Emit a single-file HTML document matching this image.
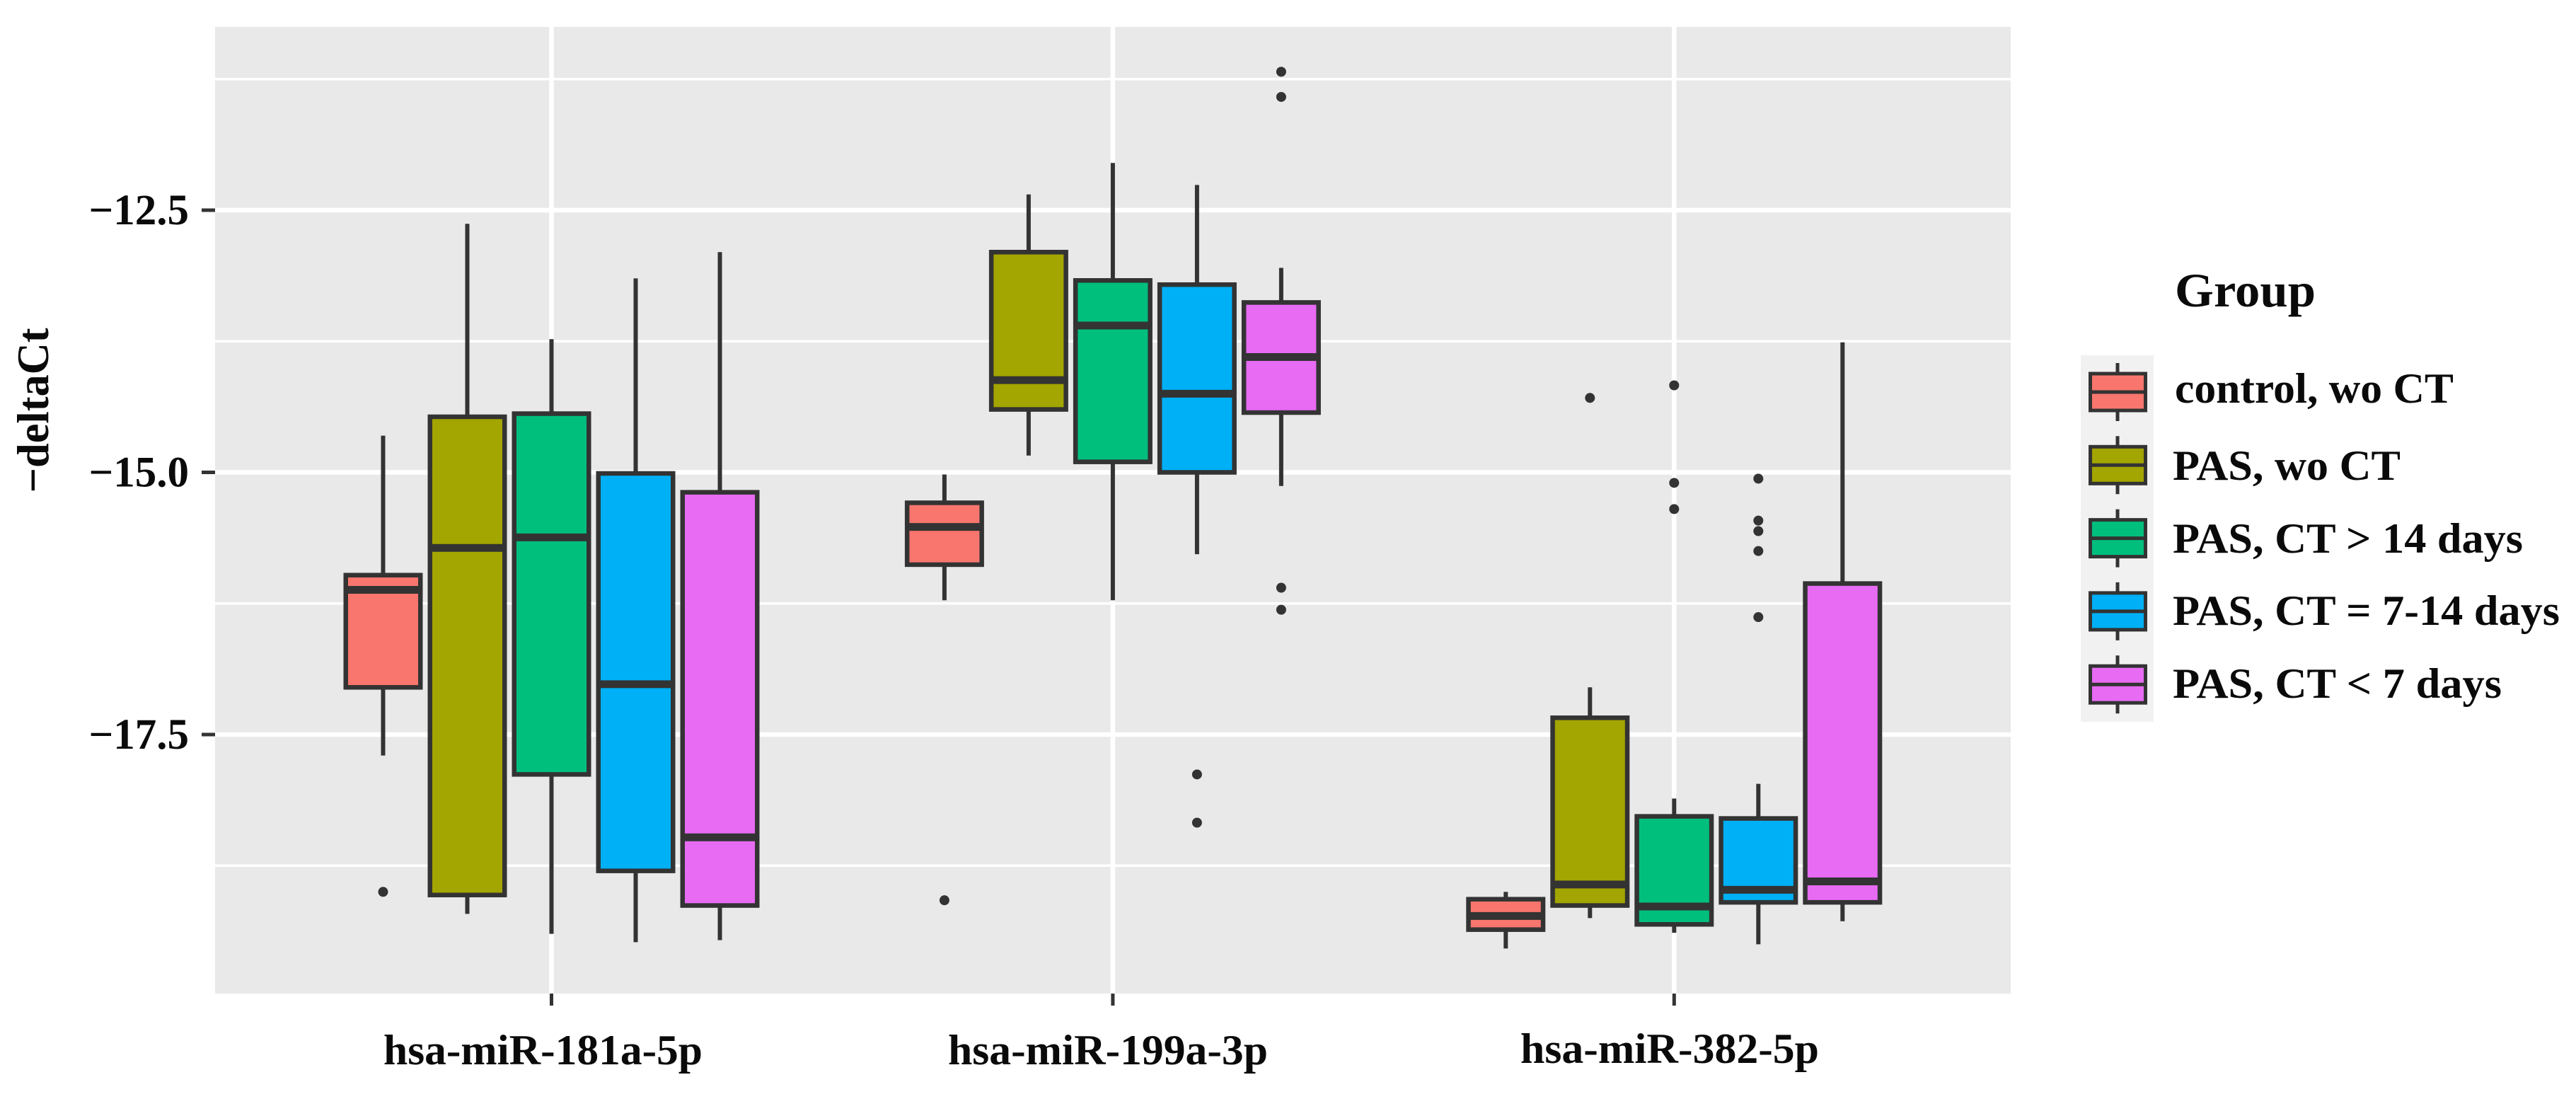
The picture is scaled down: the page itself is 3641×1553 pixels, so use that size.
<!DOCTYPE html>
<html lang="en">
<head>
<meta charset="utf-8">
<title>Boxplot of -deltaCt by miRNA and group</title>
<style>
  html, body { margin: 0; padding: 0; background: #fff; }
  svg { display: block; }
  text { font-family: "Liberation Serif", serif; font-weight: bold; fill: #0a0a0a; }
</style>
</head>
<body>
<svg id="chart" xmlns="http://www.w3.org/2000/svg" width="3641" height="1553" viewBox="0 0 3641 1553">
  <rect x="0" y="0" width="3641" height="1553" fill="#ffffff"/>
  <rect x="304" y="38" width="2538" height="1366" fill="#e9e9e9"/>
  <g id="grid"></g>
  <g id="axes"></g>
  <g id="marks"></g>
  <g id="legend">
    <rect x="2941" y="502" width="103" height="518" fill="#f1f1f1"/>
    <text x="3074" y="433" font-size="68" textLength="199" lengthAdjust="spacingAndGlyphs">Group</text>
    <text x="3074" y="569" font-size="60" textLength="394" lengthAdjust="spacingAndGlyphs">control, wo CT</text>
    <text x="3071" y="678" font-size="60" textLength="322" lengthAdjust="spacingAndGlyphs">PAS, wo CT</text>
    <text x="3071" y="781" font-size="60" textLength="495" lengthAdjust="spacingAndGlyphs">PAS, CT &gt; 14 days</text>
    <text x="3071" y="883" font-size="60" textLength="547" lengthAdjust="spacingAndGlyphs">PAS, CT = 7-14 days</text>
    <text x="3071" y="986" font-size="60" textLength="465" lengthAdjust="spacingAndGlyphs">PAS, CT &lt; 7 days</text>
  </g>
  <text transform="translate(68,580) rotate(-90)" text-anchor="middle" font-size="64" textLength="233" lengthAdjust="spacingAndGlyphs">−deltaCt</text>
  <text x="542" y="1504" font-size="60" textLength="451" lengthAdjust="spacingAndGlyphs">hsa-miR-181a-5p</text>
  <text x="1340" y="1504" font-size="60" textLength="452" lengthAdjust="spacingAndGlyphs">hsa-miR-199a-3p</text>
  <text x="2149" y="1502" font-size="60" textLength="422" lengthAdjust="spacingAndGlyphs">hsa-miR-382-5p</text>
</svg>
<script>
// Data, one row per miRNA, one column per group
const categories = ["hsa-miR-181a-5p", "hsa-miR-199a-3p", "hsa-miR-382-5p"];
const groups = ["control, wo CT", "PAS, wo CT", "PAS, CT > 14 days", "PAS, CT = 7-14 days", "PAS, CT < 7 days"];
const groupColors = ["#F8766D", "#A3A500", "#00BF7D", "#00B0F6", "#E76BF3"];
const whiskerHigh = [
  [-14.65, -12.63, -13.73, -13.15, -12.90],
  [-15.02, -12.35, -12.05, -12.26, -13.05],
  [-19.00, -17.05, -18.11, -17.97, -13.76]
];
const boxUpper = [
  [-15.98, -14.47, -14.44, -15.01, -15.19],
  [-15.29, -12.90, -13.17, -13.21, -13.38],
  [-19.07, -17.34, -18.28, -18.30, -16.06]
];
const medians = [
  [-16.12, -15.72, -15.62, -17.02, -18.48],
  [-15.52, -14.12, -13.60, -14.25, -13.90],
  [-19.23, -18.93, -19.14, -18.98, -18.90]
];
const boxLower = [
  [-17.05, -19.03, -17.88, -18.80, -19.13],
  [-15.88, -14.40, -14.90, -15.00, -14.43],
  [-19.36, -19.13, -19.31, -19.10, -19.10]
];
const whiskerLow = [
  [-17.70, -19.21, -19.40, -19.48, -19.46],
  [-16.22, -14.84, -16.22, -15.78, -15.13],
  [-19.54, -19.25, -19.39, -19.50, -19.28]
];
const outliers = [
  [[-19.00], [], [], [], []],
  [[-19.08], [], [], [-17.88, -18.34], [-11.18, -11.42, -16.10, -16.31]],
  [[], [-14.29], [-14.17, -15.10, -15.35], [-15.06, -15.46, -15.56, -15.75, -16.38], []]
];
const yMajorTicks = [-12.5, -15.0, -17.5];
const yTickLabels = ["−12.5", "−15.0", "−17.5"];
const yMinorTicks = [-11.25, -13.75, -16.25, -18.75];

// Axis functions
function yScale(v) { return 297 + (-12.5 - v) * 148.2; }
function xCategory(c) { return 779.5 + c * 793.4; }
function xBox(c, g) { return xCategory(c) + (g - 2) * 119; }

const NS = "http://www.w3.org/2000/svg";
function make(tag, parent, attrs) {
  const el = document.createElementNS(NS, tag);
  for (const k in attrs) el.setAttribute(k, attrs[k]);
  parent.appendChild(el);
  return el;
}
const gridG = document.getElementById("grid");
const axesG = document.getElementById("axes");
const marksG = document.getElementById("marks");
const legendG = document.getElementById("legend");

yMinorTicks.forEach(function (t) {
  const el = make("line", gridG, { x1: 304, x2: 2842, y1: yScale(t), y2: yScale(t), stroke: "#ffffff", "stroke-width": 3.5 });
  
  
});
yMajorTicks.forEach(function (t, i) {
  const grid = make("line", gridG, { x1: 304, x2: 2842, y1: yScale(t), y2: yScale(t), stroke: "#ffffff", "stroke-width": 6.5 });
  
  
  const tick = make("line", axesG, { x1: 285, x2: 304, y1: yScale(t), y2: yScale(t), stroke: "#333333", "stroke-width": 5 });
  
  
  const label = make("text", axesG, { x: 267, y: yScale(t) + 20, "text-anchor": "end", "font-size": 61 });
  label.textContent = yTickLabels[i];
  
  
});
categories.forEach(function (name, c) {
  const grid = make("line", gridG, { x1: xCategory(c), x2: xCategory(c), y1: 38, y2: 1404, stroke: "#ffffff", "stroke-width": 6.5 });
  
  
  const tick = make("line", axesG, { x1: xCategory(c), x2: xCategory(c), y1: 1404, y2: 1421, stroke: "#333333", "stroke-width": 5 });
  
  
});

const BOX_W = 105.5;
categories.forEach(function (name, c) {
  groups.forEach(function (group, g) {
    const cx = xBox(c, g);
    const wg = make("g", marksG, {});
    
    
    const upper = make("line", wg, { x1: cx, x2: cx, y1: yScale(whiskerHigh[c][g]), y2: yScale(boxUpper[c][g]), stroke: "#333333", "stroke-width": 6 });
    
    
    const lower = make("line", wg, { x1: cx, x2: cx, y1: yScale(boxLower[c][g]), y2: yScale(whiskerLow[c][g]), stroke: "#333333", "stroke-width": 6 });
    
    
    const rect = make("rect", wg, { x: cx - BOX_W / 2, y: yScale(boxUpper[c][g]), width: BOX_W, height: yScale(boxLower[c][g]) - yScale(boxUpper[c][g]), fill: groupColors[g], stroke: "#333333", "stroke-width": 6.5 });
    
    
    const med = make("line", wg, { x1: cx - BOX_W / 2, x2: cx + BOX_W / 2, y1: yScale(medians[c][g]), y2: yScale(medians[c][g]), stroke: "#333333", "stroke-width": 11 });
    
    
    outliers[c][g].forEach(function (v) {
      const dot = make("circle", wg, { cx: cx, cy: yScale(v), r: 7, fill: "#333333" });
      
      
    });
  });
});

groups.forEach(function (group, g) {
  const cy = 554 + g * 103.3;
  const key = make("g", legendG, {});
  
  
  make("line", key, { x1: 2993, x2: 2993, y1: cy - 41, y2: cy + 41, stroke: "#333333", "stroke-width": 5 });
  make("rect", key, { x: 2954.5, y: cy - 26, width: 78, height: 52, fill: groupColors[g], stroke: "#333333", "stroke-width": 5 });
  make("line", key, { x1: 2954.5, x2: 3032.5, y1: cy, y2: cy, stroke: "#333333", "stroke-width": 5 });
});
</script>
</body>
</html>
